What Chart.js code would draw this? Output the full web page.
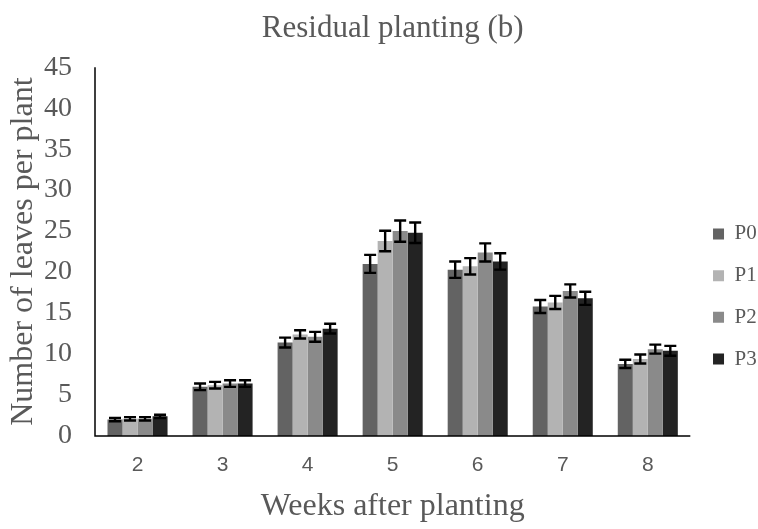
<!DOCTYPE html>
<html>
<head>
<meta charset="utf-8">
<script src="https://cdn.jsdelivr.net/npm/chart.js@4/dist/chart.umd.min.js"></script>
<style>
html,body{margin:0;padding:0;background:#fff;}
#wrap{width:758px;height:529px;position:relative;}
</style>
</head>
<body>
<div id="wrap"><canvas id="c" width="758" height="529"></canvas></div>
<script>
const categories = ['2','3','4','5','6','7','8'];
const seriesNames = ['P0','P1','P2','P3'];
const P0 = [2.0, 6.0, 11.4, 21.0, 20.3, 15.8, 8.8];
const P1 = [2.1, 6.2, 12.4, 23.8, 20.7, 16.3, 9.4];
const P2 = [2.1, 6.4, 12.1, 25.0, 22.4, 17.7, 10.6];
const P3 = [2.4, 6.4, 13.1, 24.8, 21.3, 16.8, 10.4];
const P0err = [0.2, 0.4, 0.6, 1.1, 1.0, 0.8, 0.5];
const P1err = [0.2, 0.4, 0.5, 1.25, 1.0, 0.8, 0.55];
const P2err = [0.2, 0.4, 0.6, 1.3, 1.1, 0.8, 0.55];
const P3err = [0.2, 0.4, 0.6, 1.25, 1.0, 0.8, 0.6];
const yTicks = [0,5,10,15,20,25,30,35,40,45];

const colors = ['#636363','#b3b3b3','#8a8a8a','#232323'];
const values = [P0,P1,P2,P3];
const errors = [P0err,P1err,P2err,P3err];

const errorBars = {
  id:'errorBars',
  afterDatasetsDraw(chart){
    const ctx = chart.ctx;
    const y = chart.scales.y;
    ctx.save();
    ctx.strokeStyle = '#000';
    ctx.lineWidth = 2.4;
    chart.data.datasets.forEach((ds,i)=>{
      const meta = chart.getDatasetMeta(i);
      meta.data.forEach((bar,j)=>{
        const v = ds.data[j], e = ds.err[j];
        const yt = y.getPixelForValue(v+e), yb = y.getPixelForValue(v-e);
        const x = bar.x, hw = 6;
        ctx.beginPath();
        ctx.moveTo(x,yt); ctx.lineTo(x,yb);
        ctx.moveTo(x-hw,yt); ctx.lineTo(x+hw,yt);
        ctx.moveTo(x-hw,yb); ctx.lineTo(x+hw,yb);
        ctx.stroke();
      });
    });
    ctx.restore();
  }
};

const axisLines = {
  id:'axisLines',
  afterDatasetsDraw(chart){
    const {ctx, chartArea:a} = chart;
    ctx.save();
    ctx.strokeStyle = '#000';
    ctx.lineWidth = 1.5;
    ctx.beginPath();
    ctx.moveTo(a.left, a.top);
    ctx.lineTo(a.left, a.bottom);
    ctx.lineTo(a.right, a.bottom);
    ctx.stroke();
    ctx.restore();
  }
};

new Chart(document.getElementById('c'), {
  type:'bar',
  data:{
    labels:categories,
    datasets: seriesNames.map((n,i)=>({
      label:n,
      data:values[i],
      err:errors[i],
      backgroundColor:colors[i],
      borderWidth:0,
      categoryPercentage:0.706,
      barPercentage:1.0
    }))
  },
  options:{
    responsive:false,
    animation:false,
    layout:{padding:{top:0,right:-8.7,bottom:2,left:3}},
    plugins:{
      title:{
        display:true,
        fullSize:false,
        text:'Residual planting (b)',
        color:'#595959',
        font:{family:'Liberation Serif',size:31,weight:'normal'},
        padding:{top:10,bottom:20}
      },
      legend:{
        position:'right',
        title:{display:true,text:' ',font:{size:10},padding:27},
        labels:{
          color:'#595959',
          font:{family:'Liberation Serif',size:21},
          boxWidth:11,
          boxHeight:11,
          padding:20.7
        }
      },
      tooltip:{enabled:false}
    },
    scales:{
      x:{
        grid:{display:false, drawTicks:false},
        border:{display:false},
        ticks:{color:'#595959',font:{family:'Liberation Sans',size:21},padding:16.4},
        title:{display:true,text:'Weeks after planting',color:'#595959',
          font:{family:'Liberation Serif',size:32},padding:{top:0,bottom:0.9}},
        afterFit(s){ s.height = 91; }
      },
      y:{
        min:0,max:45,
        afterBuildTicks(s){ s.ticks = yTicks.map(v=>({value:v})); },
        grid:{display:false, drawTicks:false},
        border:{display:false},
        ticks:{color:'#595959',font:{family:'Liberation Serif',size:28},padding:23},
        title:{display:true,text:'Number of leaves per plant',color:'#595959',
          font:{family:'Liberation Serif',size:32},padding:{top:1,bottom:0}},
        afterFit(s){ s.width = 92; }
      },
      y2:{
        type:'linear',
        position:'right',
        display:true,
        grid:{display:false, drawTicks:false},
        border:{display:false},
        ticks:{display:false},
        afterFit(s){ s.width = 2; }
      }
    }
  },
  plugins:[errorBars, axisLines]
});
</script>
</body>
</html>
